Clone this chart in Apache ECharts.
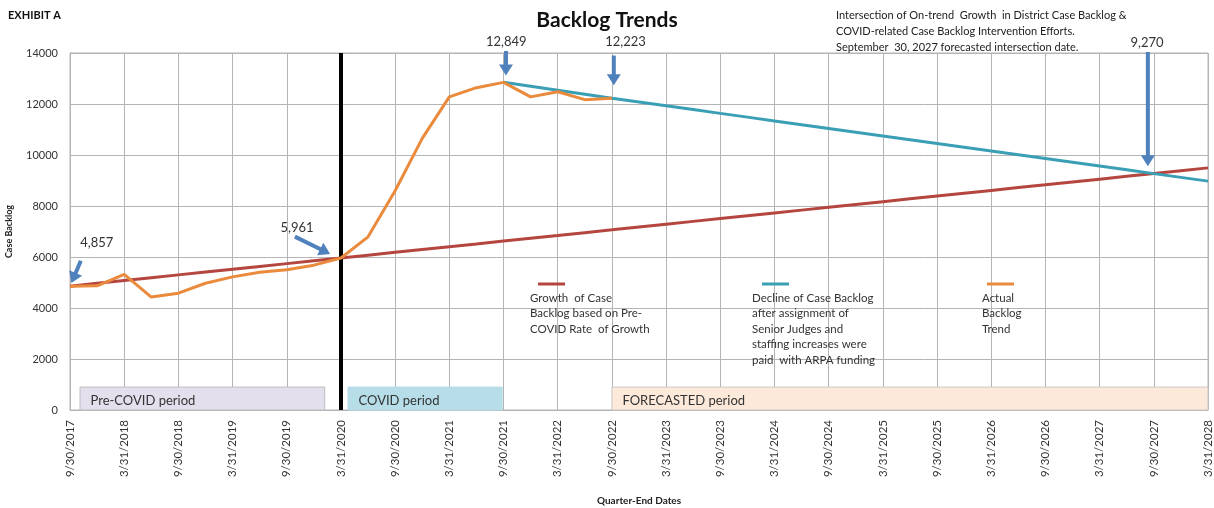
<!DOCTYPE html>
<html>
<head>
<meta charset="utf-8">
<script src="https://cdn.jsdelivr.net/npm/echarts@6/dist/echarts.min.js"></script>
<style>
  html, body { margin: 0; padding: 0; background: #fff; }
  #chart { width: 1214px; height: 508px; }
</style>
</head>
<body>
<div id="chart"></div>
<script>
const quarters = [
  "9/30/2017", "12/31/2017", "3/31/2018", "6/30/2018", "9/30/2018", "12/31/2018",
  "3/31/2019", "6/30/2019", "9/30/2019", "12/31/2019", "3/31/2020", "6/30/2020",
  "9/30/2020", "12/31/2020", "3/31/2021", "6/30/2021", "9/30/2021", "12/31/2021",
  "3/31/2022", "6/30/2022", "9/30/2022", "12/31/2022", "3/31/2023", "6/30/2023",
  "9/30/2023", "12/31/2023", "3/31/2024", "6/30/2024", "9/30/2024", "12/31/2024",
  "3/31/2025", "6/30/2025", "9/30/2025", "12/31/2025", "3/31/2026", "6/30/2026",
  "9/30/2026", "12/31/2026", "3/31/2027", "6/30/2027", "9/30/2027", "12/31/2027",
  "3/31/2028"
];

// actual backlog, 9/30/2017 .. 9/30/2022
const actualBacklog = [
  4857, 4870, 5320, 4430, 4580, 4970, 5220, 5400, 5500, 5680,
  5961, 6790, 8600, 10650, 12280, 12640, 12849, 12280, 12480, 12170, 12223
];

// pre-COVID growth trend, 9/30/2017 .. 3/31/2028
const growthTrend = [
  4857, 4967, 5078, 5188, 5299, 5409, 5519, 5630, 5740, 5851,
  5961, 6071, 6182, 6292, 6403, 6513, 6624, 6734, 6844, 6955,
  7065, 7176, 7286, 7397, 7507, 7617, 7728, 7838, 7949, 8059,
  8170, 8280, 8390, 8501, 8611, 8722, 8832, 8943, 9053, 9163,
  9270, 9384, 9495
];

// decline after intervention, starts at 9/30/2021
const declineStart = 16;
const declineTrend = [
  12849, 12693, 12536, 12380, 12223, 12075, 11928, 11780, 11632, 11485,
  11337, 11190, 11042, 10895, 10747, 10599, 10452, 10304, 10157, 10009,
  9861, 9714, 9566, 9418, 9270, 9123, 8975
];

const periods = [
  { name: "Pre-COVID period", from: 0.37, to: 9.4, color: "#e4dfec", border: "#bdbdbd" },
  { name: "COVID period", from: 10.26, to: 15.95, color: "#b7dee8", border: "#b7dee8" },
  { name: "FORECASTED period", from: 20, to: 42, color: "#fde9d9", border: "#c8c8c8" }
];
const periodTop = 900;

// callouts: label text, label position, arrow start, arrow end (in quarter index / backlog units)
const callouts = [
  { text: "4,857", at: [0.99, 6560], from: [0.4, 5850], to: [0.05, 4980] },
  { text: "5,961", at: [8.38, 7140], from: [8.3, 6800], to: [9.6, 6120] },
  { text: "12,849", at: [16.1, 14430], from: [16.09, 14080], to: [16.09, 13120] },
  { text: "12,223", at: [20.5, 14430], from: [20.07, 13900], to: [20.07, 12740] },
  { text: "9,270", at: [39.75, 14400], from: [39.78, 14040], to: [39.78, 9560] }
];

const RED = "#b5453f";
const TEAL = "#3a9fb5";
const ORANGE = "#ea8a3c";
const ARROW = "#4f81bd";
const GRID = "#b4b4b4";
const FONT = "Lato, 'Liberation Sans', sans-serif";

const chart = echarts.init(document.getElementById("chart"));

chart.setOption({
  animation: false,
  textStyle: { fontFamily: FONT },
  title: {
    text: "Backlog Trends",
    left: "center",
    top: 5,
    textStyle: { fontSize: 21, fontWeight: "bold", color: "#111", fontFamily: FONT }
  },
  grid: {
    left: 70, right: 6, top: 53, bottom: 98,
    outerBoundsMode: "none",
    containLabel: false,
    show: true, borderColor: GRID, borderWidth: 1
  },
  xAxis: {
    type: "value",
    min: 0,
    max: 42,
    interval: 2,
    name: "Quarter-End Dates",
    nameLocation: "middle",
    nameGap: 86,
    nameTextStyle: { fontSize: 10, fontWeight: "bold", color: "#222" },
    axisLine: { lineStyle: { color: GRID } },
    axisTick: { show: false },
    splitLine: { show: true, lineStyle: { color: GRID, width: 1 } },
    axisLabel: {
      rotate: 90,
      fontSize: 11.5,
      color: "#333",
      margin: 10,
      formatter: (v) => quarters[v] || ""
    }
  },
  yAxis: {
    type: "value",
    min: 0,
    max: 14000,
    interval: 2000,
    name: "Case Backlog",
    nameLocation: "middle",
    nameGap: 56,
    nameRotate: 90,
    nameTextStyle: { fontSize: 9, fontWeight: "bold", color: "#222" },
    axisLine: { show: true, lineStyle: { color: GRID } },
    axisTick: { show: false },
    splitLine: { lineStyle: { color: GRID, width: 1 } },
    axisLabel: { fontSize: 11, color: "#333", margin: 12, formatter: (v) => String(v) }
  },
  series: [
    {
      name: "periods",
      type: "line",
      data: [],
      silent: true,
      markArea: {
        silent: true,
        data: periods.map((p) => [
          {
            coord: [p.from, periodTop],
            itemStyle: { color: p.color, borderColor: p.border, borderWidth: 1 },
            label: {
              show: true,
              position: "insideLeft",
              formatter: p.name,
              fontSize: 13,
              color: "#333",
              fontFamily: FONT,
              offset: [6, 2]
            }
          },
          { coord: [p.to, 0] }
        ])
      },
      markLine: {
        silent: true,
        symbol: "none",
        label: { show: false },
        lineStyle: { color: "#000", width: 4, type: "solid" },
        data: [{ xAxis: 10 }]
      }
    },
    {
      name: "Growth of Case Backlog based on Pre-COVID Rate of Growth",
      type: "line",
      symbol: "none",
      z: 3,
      lineStyle: { color: RED, width: 3 },
      data: growthTrend.map((v, i) => [i, v])
    },
    {
      name: "Decline of Case Backlog",
      type: "line",
      symbol: "none",
      z: 4,
      lineStyle: { color: TEAL, width: 3 },
      data: declineTrend.map((v, i) => [i + declineStart, v])
    },
    {
      name: "Actual Backlog Trend",
      type: "line",
      symbol: "none",
      z: 5,
      lineStyle: { color: ORANGE, width: 3 },
      data: actualBacklog.map((v, i) => [i, v])
    }
  ]
});

function toPx(pt) {
  return chart.convertToPixel({ gridIndex: 0 }, pt);
}

function arrowShapes(fromPt, toPt) {
  const a = toPx(fromPt);
  const b = toPx(toPt);
  const dx = b[0] - a[0];
  const dy = b[1] - a[1];
  const len = Math.sqrt(dx * dx + dy * dy);
  const ux = dx / len;
  const uy = dy / len;
  const head = 11;
  const half = 7;
  const base = [b[0] - ux * head, b[1] - uy * head];
  return [
    {
      type: "line",
      shape: { x1: a[0], y1: a[1], x2: base[0] + ux * 2, y2: base[1] + uy * 2 },
      style: { stroke: ARROW, lineWidth: 4 },
      z: 20
    },
    {
      type: "polygon",
      shape: {
        points: [
          b,
          [base[0] - uy * half, base[1] + ux * half],
          [base[0] + uy * half, base[1] - ux * half]
        ]
      },
      style: { fill: ARROW },
      z: 20
    }
  ];
}

function textEl(text, x, y, opts) {
  return {
    type: "text",
    x: x,
    y: y,
    z: 30,
    style: Object.assign({
      text: text,
      font: "11.5px " + FONT,
      fill: "#222",
      textAlign: "left",
      textVerticalAlign: "middle"
    }, opts || {})
  };
}

function legendItem(color, lineX, lines, textX) {
  const els = [
    {
      type: "line",
      shape: { x1: lineX, y1: 284, x2: lineX + 27, y2: 284 },
      style: { stroke: color, lineWidth: 3 },
      z: 30
    }
  ];
  lines.forEach((t, i) => {
    els.push(textEl(t, textX, 298 + i * 15.5, { font: "11.5px " + FONT, fill: "#333" }));
  });
  return els;
}

const graphics = [];
graphics.push(textEl("EXHIBIT A", 8, 15, { font: "bold 11px " + FONT, fill: "#111" }));
[
  "Intersection of On-trend  Growth  in District Case Backlog &",
  "COVID-related Case Backlog Intervention Efforts.",
  "September  30, 2027 forecasted intersection date."
].forEach((t, i) => graphics.push(textEl(t, 836, 15 + i * 16, { font: "11px " + FONT })));

callouts.forEach((c) => {
  const p = toPx(c.at);
  graphics.push(textEl(c.text, p[0], p[1], { font: "13px " + FONT, fill: "#333", textAlign: "center" }));
  arrowShapes(c.from, c.to).forEach((el) => graphics.push(el));
});

legendItem(RED, 538, ["Growth  of Case", "Backlog based on Pre-", "COVID Rate  of Growth"], 530)
  .forEach((el) => graphics.push(el));
legendItem(TEAL, 762, ["Decline of Case Backlog", "after assignment of", "Senior Judges and",
  "staffing increases were", "paid  with ARPA funding"], 752).forEach((el) => graphics.push(el));
legendItem(ORANGE, 987, ["Actual", "Backlog", "Trend"], 982).forEach((el) => graphics.push(el));

chart.setOption({ graphic: graphics });
</script>
</body>
</html>
